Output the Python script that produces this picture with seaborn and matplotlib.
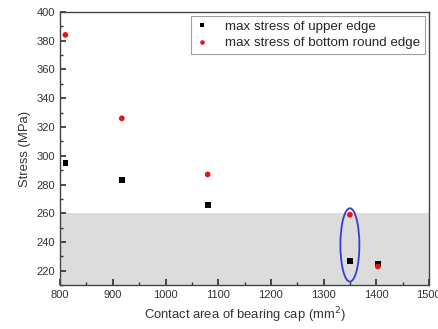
import matplotlib
matplotlib.use("Agg")
import matplotlib.pyplot as plt
import seaborn as sns
import pandas as pd
from matplotlib.patches import Ellipse
from matplotlib.ticker import MultipleLocator

area = [810, 917, 1080, 1350, 1403]
upper_edge = [295, 283, 266, 227, 225]
bottom_round_edge = [384, 326, 287, 259, 223]
series_names = ["max stress of upper edge", "max stress of bottom round edge"]

sns.set_theme(style="ticks")
plt.rcParams['font.family'] = ['Liberation Sans', 'DejaVu Sans']

df = pd.DataFrame({
    "area": area * 2,
    "stress": upper_edge + bottom_round_edge,
    "series": [series_names[0]] * len(area) + [series_names[1]] * len(area),
})

fig = plt.figure(figsize=(4.39, 3.29), dpi=100)
ax = fig.add_axes([0.137, 0.133, 0.840, 0.831])

ax.axhspan(210, 260, color="#dcdcdc", zorder=0, lw=0)

sns.scatterplot(data=df, x="area", y="stress", hue="series", style="series",
                palette={series_names[0]: "black", series_names[1]: "#e8141c"},
                markers={series_names[0]: "s", series_names[1]: "o"},
                s=17, edgecolor="none", ax=ax, zorder=3)

ax.add_patch(Ellipse((1350, 238), 36, 51, fill=False, edgecolor="#3a3ad6", lw=1.3, zorder=4))

ax.set_xlim(800, 1500)
ax.set_ylim(210, 400)
ax.xaxis.set_major_locator(MultipleLocator(100))
ax.xaxis.set_minor_locator(MultipleLocator(50))
ax.yaxis.set_major_locator(MultipleLocator(20))
ax.yaxis.set_minor_locator(MultipleLocator(10))
ax.tick_params(which="both", direction="in", top=False, right=False, labelsize=8, colors="#333333")
ax.tick_params(which="major", length=4)
ax.tick_params(which="minor", length=2)
for sp in ax.spines.values():
    sp.set_color("#444444")
    sp.set_linewidth(1.0)

ax.set_xlabel("Contact area of bearing cap (mm$^2$)", fontsize=9.4, color="#333333")
ax.set_ylabel("Stress (MPa)", fontsize=9.4, color="#333333")

leg = ax.legend(loc="upper right", fontsize=9.6, frameon=True, fancybox=False,
                edgecolor="#888888", handletextpad=1.2, borderaxespad=0.3,
                markerscale=0.8, labelspacing=0.3, borderpad=0.35, handlelength=1.0)
leg.get_frame().set_linewidth(0.8)

fig.savefig("out.png", dpi=100)
